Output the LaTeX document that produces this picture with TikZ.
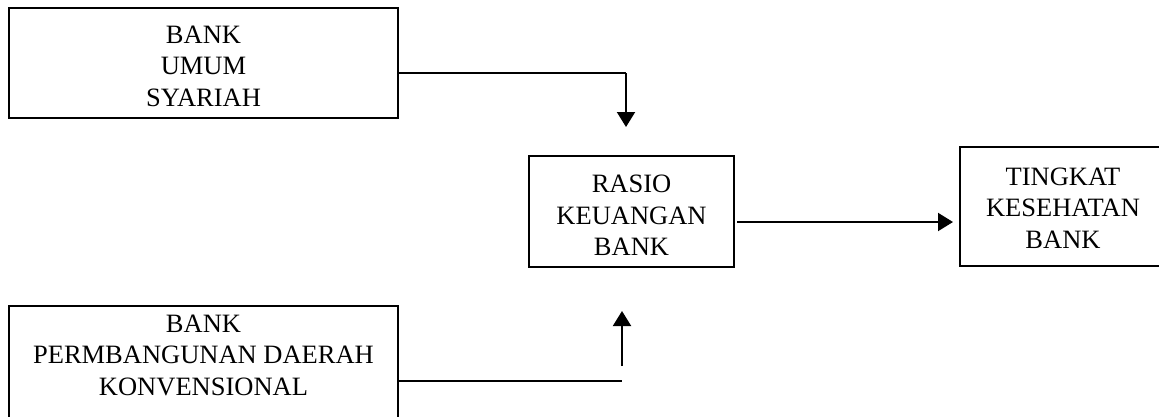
\documentclass[tikz,border=0pt]{standalone}
\usepackage{fontspec}
\setmainfont{Liberation Serif}
\usetikzlibrary{arrows.meta}
\begin{document}
\begin{tikzpicture}[x=1pt,y=-1pt,
  box/.style={draw, line width=1.8pt, inner sep=0pt},
  txt/.style={align=center, inner sep=0pt, font=\fontsize{26.5}{31.5}\selectfont},
  link/.style={line width=1.6pt},
  arr/.style={line width=2pt, -{Triangle[width=18pt,length=15pt]}}]
\useasboundingbox (0,0) rectangle (1159,416);

% boxes
\node[box, minimum width=389pt, minimum height=110pt] (bus) at (203.5,63) {};
\node[box, minimum width=389pt, minimum height=134pt] (bpd) at (203.5,373) {};
\node[box, minimum width=205pt, minimum height=111pt] (rasio) at (631.5,211.5) {};
\node[box, minimum width=206pt, minimum height=119pt] (tkb) at (1063,206.5) {};

% box texts
\node[txt] (bustext) at ([yshift=-3pt]bus.center) {BANK\\UMUM\\SYARIAH};
\node[txt] (bpdtext) at (203.5,355) {BANK\\PERMBANGUNAN DAERAH\\KONVENSIONAL};
\node[txt] (rasiotext) at ([yshift=-4pt]rasio.center) {RASIO\\KEUANGAN\\BANK};
\node[txt] (tkbtext) at ([yshift=-1.5pt]tkb.center) {TINGKAT\\KESEHATAN\\BANK};

% connector points
\coordinate (j1) at (626,73);
\coordinate (t1) at (626,127);
\coordinate (j2) at (622,381);
\coordinate (u0) at (622,366);
\coordinate (u1) at (622,311);
\coordinate (m0) at (737,222);
\coordinate (m1) at (953,222);

% connectors
\draw[link] (bus.east |- j1) -- (j1);
\draw[arr] (j1) -- (t1);
\draw[link] (bpd.east |- j2) -- (j2);
\draw[arr] (u0) -- (u1);
\draw[arr] (m0) -- (m1);
\end{tikzpicture}
\end{document}
